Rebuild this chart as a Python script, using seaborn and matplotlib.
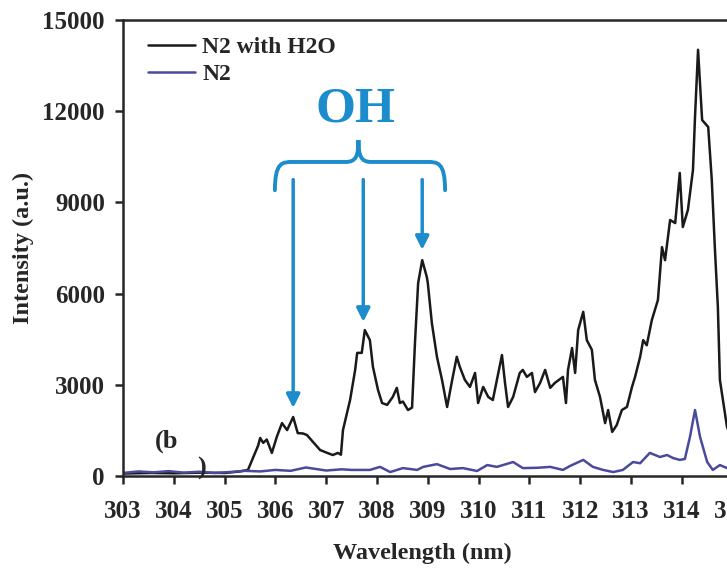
import numpy as np
import pandas as pd
import matplotlib
matplotlib.use("Agg")
import matplotlib.pyplot as plt
from matplotlib.path import Path
from matplotlib.patches import PathPatch
import seaborn as sns

# spectrum: N2 with H2O
wl_h2o = [303.00, 303.53, 304.02, 304.52, 305.01, 305.30, 305.46, 305.56, 305.66, 305.70,
          305.76, 305.83, 305.93, 306.03, 306.13, 306.23, 306.35, 306.44, 306.54, 306.62,
          306.74, 306.88, 307.02, 307.13, 307.23, 307.29, 307.33, 307.47, 307.57, 307.61,
          307.70, 307.76, 307.86, 307.92, 308.02, 308.10, 308.20, 308.31, 308.39, 308.45,
          308.51, 308.61, 308.69, 308.75, 308.81, 308.89, 308.98, 309.00, 309.08, 309.18,
          309.28, 309.38, 309.48, 309.57, 309.63, 309.73, 309.83, 309.93, 309.99, 310.09,
          310.19, 310.28, 310.46, 310.52, 310.58, 310.68, 310.81, 310.87, 310.95, 311.05,
          311.11, 311.21, 311.31, 311.41, 311.50, 311.66, 311.72, 311.76, 311.84, 311.90,
          311.96, 312.06, 312.13, 312.23, 312.29, 312.39, 312.49, 312.55, 312.63, 312.72,
          312.82, 312.92, 313.02, 313.08, 313.18, 313.24, 313.31, 313.41, 313.47, 313.53,
          313.61, 313.67, 313.77, 313.87, 313.96, 314.02, 314.12, 314.22, 314.26, 314.32,
          314.40, 314.52, 314.59, 314.65, 314.71, 314.75, 314.89, 315.00]
int_h2o = [80, 100, 90, 110, 100, 150, 200, 600, 1000, 1250,
           1090, 1200, 760, 1300, 1740, 1510, 1940, 1410, 1400, 1350,
           1120, 855, 760, 690, 760, 700, 1510, 2500, 3490, 4050,
           4050, 4800, 4470, 3590, 2830, 2400, 2340, 2600, 2900, 2400,
           2450, 2170, 2250, 4470, 6350, 7100, 6550, 6350, 5030, 3920,
           3160, 2270, 3160, 3920, 3590, 3160, 2930, 3390, 2400, 2930,
           2600, 2500, 3980, 3060, 2270, 2600, 3390, 3490, 3260, 3390,
           2760, 3060, 3490, 2900, 3060, 3260, 2400, 3490, 4210, 3390,
           4800, 5400, 4470, 4150, 3160, 2600, 1740, 2170, 1450, 1680,
           2170, 2270, 2930, 3260, 3920, 4470, 4300, 5130, 5460, 5790,
           7530, 7100, 8420, 8320, 9970, 8190, 8750, 10070, 11810, 14020,
           11710, 11480, 9740, 7530, 5560, 3160, 1610, 1200]

# spectrum: N2
wl_n2 = [303.00, 303.30, 303.60, 303.90, 304.20, 304.50, 304.80, 305.10, 305.40, 305.70,
         306.00, 306.30, 306.60, 306.80, 307.00, 307.30, 307.50, 307.86, 308.06, 308.26,
         308.51, 308.79, 308.91, 309.18, 309.44, 309.69, 309.97, 310.17, 310.36, 310.68,
         310.87, 311.15, 311.41, 311.66, 311.80, 312.06, 312.25, 312.45, 312.65, 312.84,
         313.04, 313.18, 313.37, 313.57, 313.71, 313.83, 313.96, 314.06, 314.16, 314.26,
         314.36, 314.50, 314.61, 314.75, 314.89, 315.00]
int_n2 = [100, 150, 120, 160, 110, 140, 100, 130, 170, 150,
          200, 170, 280, 230, 180, 220, 200, 200, 300, 130,
          260, 200, 300, 390, 230, 260, 165, 360, 300, 460,
          260, 270, 300, 200, 330, 530, 300, 200, 130, 200,
          460, 420, 760, 625, 690, 590, 530, 560, 1280, 2170,
          1280, 460, 200, 360, 260, 250]

series_names = ["N2 with H2O", "N2"]
series_colors = ["#1a1a1a", "#4a4a9c"]
oh_peaks = [306.35, 307.73, 308.89]
oh_tips = [2240, 5070, 7440]
xticks = list(range(303, 316))
yticks = [0, 3000, 6000, 9000, 12000, 15000]

df = pd.concat([
    pd.DataFrame({"wl": wl_h2o, "val": int_h2o, "series": series_names[0]}),
    pd.DataFrame({"wl": wl_n2, "val": int_n2, "series": series_names[1]}),
])

sns.set_style("ticks")
plt.rcParams["font.family"] = ["Liberation Serif", "DejaVu Serif"]
plt.rcParams["font.weight"] = "bold"
plt.rcParams["axes.labelweight"] = "bold"

fig = plt.figure(figsize=(7.27, 5.71), dpi=100)
ax = fig.add_axes([123 / 727, 95 / 571, 13 * 50.8 / 727, 456 / 571])

sns.lineplot(data=df, x="wl", y="val", hue="series", hue_order=series_names,
             palette=dict(zip(series_names, series_colors)), linewidth=1.8,
             sort=False, ax=ax)

ax.set_xlim(303, 316)
ax.set_ylim(0, 15000)
ax.set_xticks(xticks)
ax.set_yticks(yticks)
ax.tick_params(axis="both", labelsize=18, width=1.8, length=6, direction="out")
ax.tick_params(axis="x", pad=11)
ax.tick_params(axis="y", pad=7)
for sp in ax.spines.values():
    sp.set_linewidth(1.8)

ax.set_xlabel("Wavelength (nm)", fontsize=17.5)
ax.set_ylabel("Intensity (a.u.)", fontsize=17.5)
ax.xaxis.set_label_coords((422 - 123) / (13 * 50.8), -0.146)
ax.yaxis.set_label_coords(-0.135, 0.5)

leg = ax.legend(loc="upper left", frameon=False, fontsize=17, handlelength=2.0,
                handletextpad=0.3, labelspacing=0.22, borderaxespad=0.3,
                bbox_to_anchor=(0.013, 1.0))
for h in leg.get_lines():
    h.set_linewidth(1.8)

# OH annotation: brace + arrows
oh_col = "#1c8ccc"
x0, x1 = oh_peaks[0] - 0.36, oh_peaks[-1] + 0.45
xm = (x0 + x1) / 2 - 0.03
y_end, y_mid, y_tip = 9400, 10330, 11050
verts = [(x0, y_end), (x0, y_mid), (x0 + 0.15, y_mid), (x0 + 0.35, y_mid),
         (xm - 0.3, y_mid), (xm - 0.3, y_mid), (xm - 0.25, y_mid),
         (xm - 0.05, y_mid), (xm, y_mid + 200), (xm, y_tip),
         (xm, y_mid + 200), (xm + 0.05, y_mid), (xm + 0.25, y_mid),
         (x1 - 0.35, y_mid), (x1 - 0.35, y_mid), (x1 - 0.15, y_mid),
         (x1, y_mid), (x1, y_end)]
codes = [Path.MOVETO, Path.CURVE4, Path.CURVE4, Path.CURVE4,
         Path.LINETO, Path.LINETO, Path.LINETO,
         Path.CURVE4, Path.CURVE4, Path.CURVE4,
         Path.CURVE4, Path.CURVE4, Path.CURVE4,
         Path.LINETO, Path.LINETO, Path.CURVE4, Path.CURVE4, Path.CURVE4]
ax.add_patch(PathPatch(Path(verts, codes), fill=False, edgecolor=oh_col, lw=2.8,
                       capstyle="round"))
ax.text(xm - 0.05, y_tip + 250, "OH", color=oh_col, fontsize=37, fontweight="bold",
        ha="center", va="bottom")
for px, tip in zip(oh_peaks, oh_tips):
    ax.annotate("", xy=(px, tip), xytext=(px, 9750),
                arrowprops=dict(arrowstyle="-|>", color=oh_col, lw=2.5,
                                mutation_scale=20, shrinkA=0, shrinkB=0))

ax.text(303.62, 1150, "(b", fontsize=19, fontweight="bold", ha="left", va="center")
ax.text(304.45, 250, ")", fontsize=19, fontweight="bold", ha="left", va="center")

fig.savefig("out.png", dpi=100)
